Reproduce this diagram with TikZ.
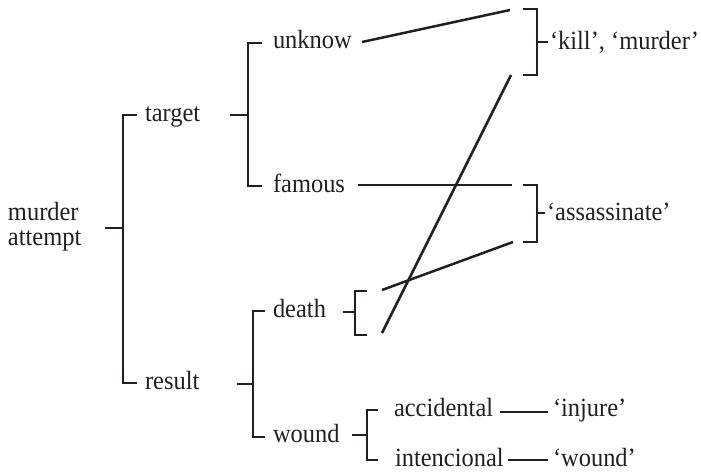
\documentclass[tikz,border=0pt]{standalone}
\usepackage{fontspec}
\setmainfont[FakeStretch=0.93]{Liberation Serif}
\definecolor{ink}{HTML}{231F20}
\tikzset{
  lbl/.style={anchor=base west, inner sep=0pt, outer sep=0pt, text=ink, font=\fontsize{26.3}{30}\selectfont},
  br/.style={draw=ink, line width=2.5pt, line cap=butt, line join=miter},
  link/.style={draw=ink, line width=2.5pt}
}
\begin{document}
\begin{tikzpicture}[x=1pt,y=-1pt]
\useasboundingbox (0,0) rectangle (701,474);
% text nodes
\node[lbl] (ma) at (8,220) {murder};
\node[lbl] (mb) at (8,245) {attempt};
\node[lbl] (target) at (145,121) {target};
\node[lbl] (result) at (145,389) {result};
\node[lbl] (unknow) at (273,48) {unknow};
\node[lbl] (famous) at (273,192) {famous};
\node[lbl] (death) at (273,317) {death};
\node[lbl] (wound) at (273,442) {wound};
\node[lbl] (accidental) at (394,416) {accidental};
\node[lbl] (intencional) at (395,466) {intencional};
\node[lbl] (kill) at (550,49) {‘kill’, ‘murder’};
\node[lbl] (assas) at (547,220) {‘assassinate’};
\node[lbl] (injure) at (553,416) {‘injure’};
\node[lbl] (wnd) at (553,466) {‘wound’};
% coordinates
\coordinate (t0a) at (105,228); \coordinate (t0b) at (123,228);
\coordinate (t1a) at (230,115); \coordinate (t1b) at (248,115);
\coordinate (t2a) at (237,384); \coordinate (t2b) at (253,384);
\coordinate (t3a) at (343,312); \coordinate (t3b) at (355,312);
\coordinate (t4a) at (352,435); \coordinate (t4b) at (367,435);
\coordinate (d1) at (382,290); \coordinate (d2) at (382,333);
\coordinate (k1) at (510,10); \coordinate (k2) at (511,75);
\coordinate (a1) at (512,185); \coordinate (a2) at (513,242);
\coordinate (u0) at (362,42); \coordinate (f0) at (358,185);
\coordinate (ac0) at (500,412); \coordinate (ac1) at (548,412);
\coordinate (in0) at (508,460); \coordinate (in1) at (548,460);
% brackets
\draw[br] (t0a) -- (t0b);
\draw[br] (137,115) -- (123,115) -- (123,383) -- (137,383);
\draw[br] (t1a) -- (t1b);
\draw[br] (262,43) -- (248,43) -- (248,186) -- (262,186);
\draw[br] (t2a) -- (t2b);
\draw[br] (265,311) -- (253,311) -- (253,437) -- (265,437);
\draw[br] (t3a) -- (t3b);
\draw[br] (367,291) -- (355,291) -- (355,335) -- (367,335);
\draw[br] (t4a) -- (t4b);
\draw[br] (378,410) -- (367,410) -- (367,460) -- (378,460);
\draw[br] (523,9) -- (537,9) -- (537,75) -- (523,75);
\draw[br] (537,42) -- (548,42);
\draw[br] (523,185) -- (537,185) -- (537,242) -- (523,242);
\draw[br] (537,213) -- (545,213);
% links
\draw[link] (u0) -- (k1);
\draw[link] (f0) -- (a1);
\draw[link] (d1) -- (a2);
\draw[link] (d2) -- (k2);
\draw[link] (ac0) -- (ac1);
\draw[link] (in0) -- (in1);
\end{tikzpicture}
\end{document}
